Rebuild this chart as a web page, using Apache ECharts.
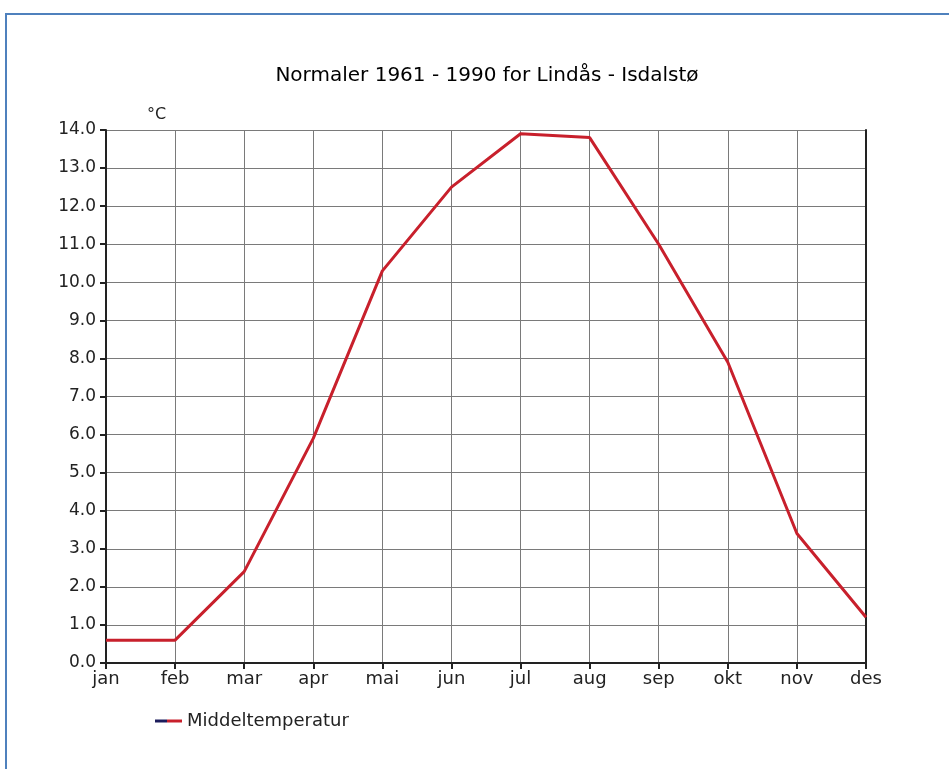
<!DOCTYPE html>
<html>
<head>
<meta charset="utf-8">
<script src="https://cdn.jsdelivr.net/npm/echarts@6/dist/echarts.min.js"></script>
<style>
html,body{margin:0;padding:0;background:#fff;}
#frame{position:absolute;left:5px;top:13px;width:960px;height:780px;border-left:2px solid #4f81bd;border-top:2px solid #4f81bd;box-sizing:border-box;}
#chart{position:absolute;left:0;top:0;width:949px;height:769px;}
</style>
</head>
<body>
<div id="frame"></div>
<div id="chart"></div>
<script>
const titleText = 'Normaler 1961 - 1990 for Lindås - Isdalstø';
const unitName = '°C';
const months = ['jan','feb','mar','apr','mai','jun','jul','aug','sep','okt','nov','des'];
const seriesName = 'Middeltemperatur';
const middeltemperatur = [0.6, 0.6, 2.4, 5.9, 10.3, 12.5, 13.9, 13.8, 11.0, 7.9, 3.4, 1.2];
const yMin = 0, yMax = 14, yStep = 1;

const font = 'DejaVu Sans';
const chart = echarts.init(document.getElementById('chart'), null, {renderer:'canvas'});
chart.setOption({
  backgroundColor: 'transparent',
  animation: false,
  title: {
    text: titleText, left: 482, top: 61, textAlign: 'center',
    textStyle: {fontFamily: font, fontSize: 20, fontWeight: 'normal', color: '#000'}
  },
  legend: {
    left: 150, top: 707, itemWidth: 27, itemHeight: 3, itemGap: 2, icon: 'rect',
    textStyle: {fontFamily: font, fontSize: 18, color: '#222', padding: [0,0,0,0]},
    data: [{
      name: seriesName,
      itemStyle: {color: {type:'linear', x:0, y:0, x2:1, y2:0, colorStops:[
        {offset:0, color:'#1c1c5c'}, {offset:0.45, color:'#1c1c5c'},
        {offset:0.45, color:'#c8202c'}, {offset:1, color:'#c8202c'}]}}
    }]
  },
  grid: {left: 106, right: 83, top: 130, bottom: 106, containLabel: false},
  xAxis: [{
    type: 'category', data: months, boundaryGap: false,
    axisLine: {lineStyle: {color: '#222', width: 2}},
    axisTick: {show: true, alignWithLabel: true, length: 6, lineStyle: {color: '#222', width: 2}},
    axisLabel: {fontFamily: font, fontSize: 18, color: '#222', margin: 7},
    splitLine: {show: true, lineStyle: {color: '#7a7a7a', width: 1}}
  }, {
    type: 'category', data: months, boundaryGap: false, position: 'top',
    axisLine: {lineStyle: {color: '#222', width: 2}},
    axisTick: {show: false}, axisLabel: {show: false}, splitLine: {show: false}
  }],
  yAxis: [{
    type: 'value', min: yMin, max: yMax, interval: yStep,
    name: unitName, nameLocation: 'end', nameGap: 7,
    nameTextStyle: {fontFamily: font, fontSize: 16, color: '#222', align: 'left', padding: [0,0,0,41]},
    axisLine: {show: true, lineStyle: {color: '#222', width: 2}},
    axisTick: {show: true, length: 6, lineStyle: {color: '#222', width: 2}},
    axisLabel: {fontFamily: font, fontSize: 17, color: '#222', margin: 10, formatter: v => v.toFixed(1)},
    splitLine: {show: true, lineStyle: {color: '#7a7a7a', width: 1}}
  }, {
    type: 'value', min: yMin, max: yMax, interval: yStep, position: 'right',
    axisLine: {show: true, lineStyle: {color: '#222', width: 2}},
    axisTick: {show: false}, axisLabel: {show: false}, splitLine: {show: false}
  }],
  series: [{
    name: seriesName, type: 'line', data: middeltemperatur,
    symbol: 'none', smooth: false,
    lineStyle: {color: '#c8202c', width: 3},
    itemStyle: {color: '#c8202c'}
  }]
});
</script>
</body>
</html>
